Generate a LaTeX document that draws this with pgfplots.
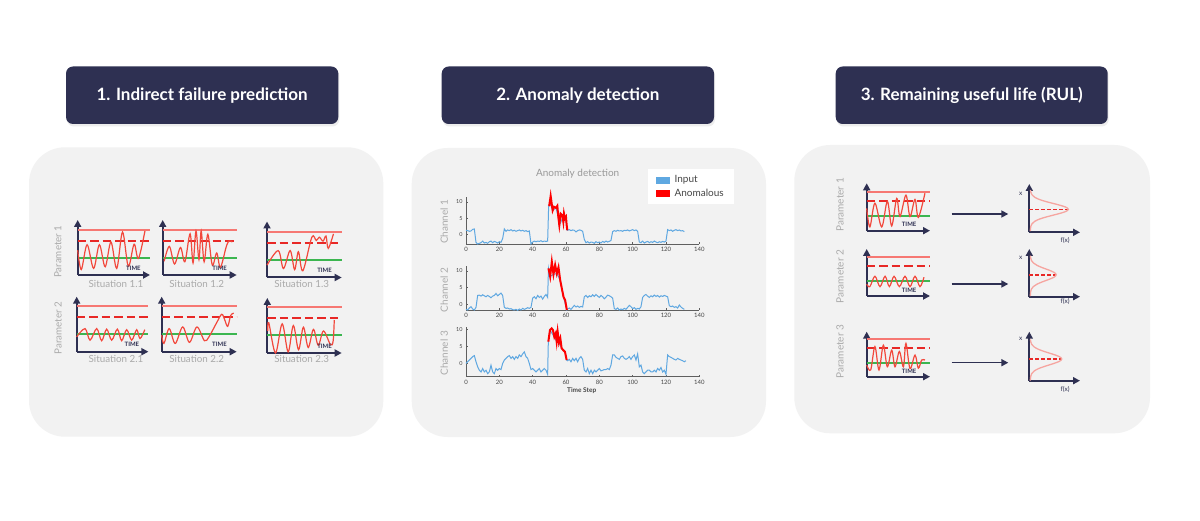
\documentclass[border=0pt]{standalone}
\usepackage{fontspec}
\setmainfont{Lato}
\usepackage{pgfplots}
\pgfplotsset{compat=1.18}
\usetikzlibrary{arrows.meta}
\definecolor{navy}{RGB}{46,48,82}
\definecolor{panelgray}{RGB}{242,242,242}
\definecolor{lightred}{RGB}{246,120,115}
\definecolor{dashred}{RGB}{232,40,38}
\definecolor{limgreen}{RGB}{60,182,80}
\definecolor{sigred}{RGB}{242,72,60}
\definecolor{distpink}{RGB}{246,165,160}
\definecolor{chblue}{RGB}{95,168,225}
\definecolor{anred}{RGB}{255,0,0}
\definecolor{labelgray}{RGB}{170,170,170}
\definecolor{axgray}{RGB}{95,95,95}
\definecolor{ticktext}{RGB}{70,70,70}
\pgfplotsset{
 mini/.style={scale only axis, axis lines=left, xmin=0, xmax=100, ymin=0, ymax=100,
   ticks=none, clip=false, enlargelimits=false,
   axis line style={draw=navy, line width=2pt},
   x axis line style={-{Triangle[length=7pt,width=7pt]}},
   y axis line style={-{Triangle[length=7pt,width=7pt]}}},
 toplim/.style={draw=lightred, solid, line width=2pt},
 dashlim/.style={draw=dashred, line width=2.2pt, dash pattern=on 8.5pt off 4pt},
 greenlim/.style={draw=limgreen, solid, line width=2pt},
 sig/.style={draw=sigred, solid, line width=1.2pt, smooth, tension=0.55},
 dist/.style={draw=distpink, solid, line width=1.3pt, smooth, tension=0.6},
 distdash/.style={draw=dashred, line width=1.5pt, dash pattern=on 3.5pt off 2.5pt},
 chan/.style={scale only axis, width=233.3pt, xmin=0, xmax=140, axis lines*=left,
   axis line style={draw=axgray, line width=0.6pt}, xtick={0,20,...,140}, ytick={0,5,10},
   tick align=inside, major tick length=2pt, tick style={draw=axgray, line width=0.5pt},
   xticklabel style={font=\fontsize{6}{6}\selectfont, text=ticktext},
   yticklabel style={font=\fontsize{5.5}{6}\selectfont, text=ticktext},
   /pgf/number format/assume math mode=true, clip=false, enlargelimits=false},
 chb/.style={draw=chblue, solid, line width=1pt},
 chr/.style={draw=anred, solid, line width=2pt},
}
\newcommand{\timelbl}[1]{\node[font=\fontsize{6}{6}\selectfont\bfseries, text=navy] at (axis cs:#1,13) {TIME};}
\newcommand{\thrlines}[3]{\addplot[toplim] coordinates {(0,#1) (100,#1)};
 \addplot[dashlim] coordinates {(0,#2) (100,#2)};
 \addplot[greenlim] coordinates {(0,#3) (100,#3)};}
\begin{document}
\begin{tikzpicture}[x=1pt,y=1pt]
\useasboundingbox (0,0) rectangle (1200,520);
\fill[white] (0,0) rectangle (1200,520);
% headers
\foreach \xa/\xb/\txt in {66/338.3/{1. Indirect failure prediction}, 441.7/714/{2. Anomaly detection}, 835.7/1107.7/{3. Remaining useful life (RUL)}}{
  \fill[black!7, rounded corners=7pt] (\xa+1,393.5) rectangle (\xb+1,451.5);
  \fill[navy, rounded corners=7pt] (\xa,396) rectangle (\xb,453.5);
  \node[white, font=\fontsize{17}{19}\selectfont\bfseries] at ({(\xa+\xb)/2},424.7) {\txt};
}
% panels
\fill[panelgray, rounded corners=36pt] (29,83.3) rectangle (383.3,372.7);
\fill[panelgray, rounded corners=36pt] (411.7,83) rectangle (766,372);
\fill[panelgray, rounded corners=36pt] (794.3,86.7) rectangle (1150,375);

% ---------- Panel 1 ----------
\begin{axis}[mini, at={(77.7pt,245pt)}, anchor=south west, width=72.3pt, height=55pt]
\thrlines{82}{62}{31.5}
\addplot[sig] coordinates {(0,45) (5,10) (13,55) (22,12) (30,55) (38,15) (46,60) (54,12) (62,78) (70,16) (78,56) (84,30) (93,80)};
\timelbl{77}
\end{axis}
\begin{axis}[mini, at={(162.7pt,245pt)}, anchor=south west, width=74pt, height=55pt]
\thrlines{82}{62}{31.5}
\addplot[sig] coordinates {(2,25) (9,52) (16,20) (24,50) (30,24) (37,75) (41,22) (45,80) (49,28) (52,80) (56,24) (61,74) (67,18) (73,40) (78,14) (86,52) (90,62) (94,60)};
\timelbl{77}
\end{axis}
\begin{axis}[mini, at={(267pt,242.5pt)}, anchor=south west, width=74.7pt, height=56pt]
\thrlines{82}{62}{31.5}
\addplot[sig] coordinates {(0,22) (15,48) (22,16) (31,48) (37,14) (42,46) (48,12) (60,72) (66,66) (70,72) (75,65) (79,74) (82,52) (89,78)};
\timelbl{77}
\end{axis}
\begin{axis}[mini, at={(76.7pt,168.3pt)}, anchor=south west, width=71.7pt, height=55pt]
\thrlines{83}{63.6}{32}
\addplot[sig] coordinates {(0,27) (11.6,42) (18.6,21) (27.9,42) (34.8,20) (41.8,41) (48.8,21) (56.7,41) (62.7,20) (69.7,40) (76.7,21) (83.7,40) (88.3,24) (95,40)};
\timelbl{77}
\end{axis}
\begin{axis}[mini, at={(161.7pt,168.3pt)}, anchor=south west, width=75pt, height=55pt]
\thrlines{83}{63.6}{32}
\addplot[sig] coordinates {(0,30) (3,15) (10,42) (18,15) (28,45) (37,17) (47,45) (57,20) (63,27) (73,52) (80,68) (84,58) (88,46) (92,66) (96,70)};
\timelbl{77}
\end{axis}
\begin{axis}[mini, at={(267.3pt,167pt)}, anchor=south west, width=74.4pt, height=55pt]
\thrlines{83}{63.6}{32}
\addplot[sig] coordinates {(0.5,40) (2,55) (11,0) (20,53) (28,2) (35,50) (42,6) (48.5,47) (55,10) (62,43) (68.5,14) (75.5,40) (85,15) (88.5,22) (90,60)};
\timelbl{77}
\end{axis}
\begin{scope}[font=\fontsize{9.8}{12}\selectfont, text=labelgray]
\node at (116,236) {Situation 1.1};
\node at (196.7,236) {Situation 1.2};
\node at (301.7,236) {Situation 1.3};
\node at (116,160.7) {Situation 2.1};
\node at (196.7,160.7) {Situation 2.2};
\node at (301.7,160.7) {Situation 2.3};
\node[rotate=90] at (58,268.3) {Parameter 1};
\node[rotate=90] at (58,192) {Parameter 2};
\end{scope}

% ---------- Panel 2 ----------
\node[font=\fontsize{10}{12}\selectfont, text=labelgray!90!black] at (577.7,346.7) {Anomaly detection};
\begin{axis}[chan, at={(466pt,276pt)}, anchor=south west, height=47.3pt, ymin=-2.9, ymax=11.6,
  legend style={at={(rel axis cs:0.78,1.58)}, anchor=north west, draw=none, fill=white,
    font=\fontsize{10}{11}\selectfont, text=ticktext, inner xsep=8pt, inner ysep=4pt, row sep=1pt},
  legend cell align=left]
\addlegendimage{legend image code/.code={\fill[chblue] (0pt,-3pt) rectangle (12.5pt,3pt); \path (16pt,0pt);}}
\addlegendentry{Input}
\addlegendimage{legend image code/.code={\fill[anred] (0pt,-3pt) rectangle (12.5pt,3pt); \path (16pt,0pt);}}
\addlegendentry{Anomalous}
\addplot[chb, forget plot] coordinates {(0,1.3)(1,1.2)(2,1.0)(3,1.1)(4,1.6)(5,1.7)(6,-2.4)(7,-2.9)(8,-2.7)(9,-2.5)(10,-2.0)(11,-2.6)(12,-2.4)(13,-2.7)(14,-2.2)(15,-2.0)(16,-2.5)(17,-2.1)(18,-2.3)(19,-2.6)(20,-2.2)(21,-2.4)(22,-1.2)(23,1.7)(24,1.0)(25,1.4)(26,1.2)(27,1.5)(28,1.1)(29,1.3)(30,1.0)(31,1.2)(32,1.4)(33,1.1)(34,1.3)(35,1.0)(36,1.2)(37,0.9)(38,1.1)(39,-2.9)(40,-2.3)(41,-2.0)(42,-2.2)(43,-2.0)(44,-2.1)(45,-1.9)(46,-2.2)(47,-2.0)(48,-2.1)(49,-2.0)(49.6,8.8)(50.5,9.5)(52,7.4)(54,8.2)(55.4,5.4)(56,2.9)(58,5)(60,4)(60.8,1.3)(62,1.5)(63,1.2)(64,1.4)(65,1.3)(66,0.8)(67,1.2)(68,1.4)(69,1.3)(70,1.0)(71,-1.5)(72,-2.5)(73,-2.2)(74,-2.6)(75,-2.3)(76,-2.4)(77,-2.7)(78,-2.2)(79,-2.5)(80,-2.3)(81,-2.6)(82,-2.1)(83,-2.4)(84,-2.0)(85,-2.3)(86,-2.1)(87,-1.8)(88,0.9)(89,1.2)(90,1.0)(91,1.3)(92,1.1)(93,1.2)(94,1.0)(95,1.3)(96,1.2)(97,1.4)(98,1.1)(99,1.3)(100,1.5)(101,1.2)(102,1.4)(103,1.0)(104,-2.3)(105,-2.5)(106,-2.0)(107,-2.6)(108,-2.3)(109,-2.1)(110,-2.5)(111,-2.2)(112,-2.4)(113,-2.0)(114,-2.3)(115,-2.5)(116,-2.2)(117,-2.4)(118,-2.1)(119,-2.3)(120,-2.0)(121,1.5)(122,1.2)(123,1.4)(124,1.0)(125,1.3)(126,1.5)(127,1.2)(128,1.4)(129,1.1)(130,1.2)(131,0.9)};
\addplot[chr, forget plot] coordinates {(49.6,8.8)(50,9)(50.8,11.8)(52,7.4)(52.8,8.5)(54,8.2)(54.8,8.8)(55.4,5.4)(56,2.9)(56.8,6.4)(57.8,5.9)(58.4,3.9)(58.8,6.4)(59.4,4.9)(60,5.4)(60.4,2.9)(60.8,1.3)};
\end{axis}
\begin{axis}[chan, at={(466pt,210pt)}, anchor=south west, height=44pt, ymin=-1.8, ymax=11.5]
\addplot[chb] coordinates {(0,-1.6)(1,-1.8)(2,-1.2)(3,-0.8)(4,-1.5)(5,-1.8)(6,-1.0)(7,2.6)(8,2.7)(9,2.4)(10,2.8)(11,2.5)(12,2.2)(13,2.6)(14,2.3)(15,1.9)(16,2.4)(17,2.6)(18,3.2)(19,2.5)(20,2.9)(21,3.3)(22,2.6)(23,-1.0)(24,-1.3)(25,-1.2)(26,-1.5)(27,-1.4)(28,-1.7)(29,-1.8)(30,-1.6)(31,-1.9)(32,-1.5)(33,-1.8)(34,-1.3)(35,-1.6)(36,-1.4)(37,-1.1)(38,-1.3)(39,-1.0)(40,1.8)(41,2.2)(42,1.6)(43,2.6)(44,2.0)(45,2.4)(46,1.5)(47,2.3)(48,2.9)(49,2.0)(49.5,10.8)(50.5,8.3)(52.5,9)(54.5,9.2)(56.5,7.3)(58.5,2.2)(60.5,-1.8)(61,-1.5)(62,-1.2)(63,-1.6)(64,-1.0)(65,-0.4)(66,-0.9)(67,-0.6)(68,-1.0)(69,-0.7)(70,-0.9)(71,2.2)(72,2.6)(73,2.0)(74,2.5)(75,2.2)(76,2.8)(77,2.3)(78,2.9)(79,2.4)(80,2.0)(81,2.6)(82,2.2)(83,1.6)(84,2.1)(85,2.7)(86,2.5)(87,2.2)(88,1.8)(89,-1.4)(90,-1.6)(91,-1.2)(92,-1.8)(93,-1.5)(94,-1.7)(95,-1.3)(96,-1.6)(97,-1.0)(98,-0.4)(99,-0.8)(100,-1.4)(101,-1.1)(102,-1.6)(103,-1.3)(104,-1.5)(105,-0.8)(106,2.0)(107,2.6)(108,2.9)(109,2.4)(110,2.0)(111,2.5)(112,2.2)(113,2.7)(114,2.3)(115,2.6)(116,2.1)(117,2.5)(118,2.3)(119,2.6)(120,2.4)(121,2.2)(122,-0.5)(123,-0.8)(124,-0.6)(125,-1.0)(126,-0.8)(127,-1.2)(128,-0.3)(129,-0.9)(130,-1.3)(131,-1.6)};
\addplot[chr] coordinates {(49.5,10.8)(50.5,8.3)(51.5,12.8)(52.5,9)(53.5,11.8)(54.5,9.2)(55.5,11.1)(56.5,7.3)(57.5,4.7)(58.5,2.2)(59.5,1.2)(60.5,-1.8)};
\end{axis}
\begin{axis}[chan, at={(466pt,143.3pt)}, anchor=south west, height=50pt, ymin=-3.9, ymax=10.8]
\addplot[chb] coordinates {(0,0)(1,0.5)(2,1)(3,1.5)(4,2)(5,2.3)(6,0.5)(7,-1)(8,-2)(9,-2.5)(10,-1.5)(11,-2.5)(12,-2)(13,-3)(14,-2.5)(15,-0.5)(16,-2.5)(17,-3)(18,-1.5)(19,-2)(20,-1.5)(21,-1.8)(22,0)(23,1)(24,1.5)(25,2)(26,2.3)(27,1.5)(28,2)(29,1.2)(30,2)(31,1.5)(32,2.5)(33,2)(34,2.8)(35,3.4)(36,2)(37,1.5)(38,0)(39,-1.8)(40,-1.5)(41,-2)(42,-2.5)(43,-2)(44,-1.5)(45,-2.5)(46,-2)(47,-1.5)(48,-2)(49,-3.2)(49.4,6.4)(50.4,9.8)(53,7.8)(54.4,6.4)(55.8,6.1)(57.4,4.4)(59.4,3.4)(60.4,1.0)(61,0.8)(62,1.2)(63,0.5)(64,1.5)(65,0.8)(66,1.5)(67,0.5)(68,1.5)(69,2)(70,1.2)(71,-2)(72,-2.5)(73,-1.5)(74,-3)(75,-2)(76,-3)(77,-2)(78,-2.5)(79,-2)(80,-1.5)(81,-2.2)(82,-2)(83,-1.8)(84,-1.8)(85,-1.5)(86,-1.8)(87,-0.5)(88,2.5)(89,2.5)(90,1.8)(91,1.5)(92,1.2)(93,2)(94,2.2)(95,1.5)(96,1.2)(97,1.5)(98,2)(99,1.2)(100,2)(101,2.5)(102,1)(103,2.8)(104,-1)(105,-0.5)(106,-2.5)(107,-3)(108,-2.5)(109,-2)(110,-2)(111,-2.5)(112,-2.5)(113,-2)(114,-2.5)(115,-1.5)(116,-2)(117,-1.2)(118,-2.5)(119,-2)(120,-3.2)(121,2.5)(122,2)(123,1.8)(124,1.5)(125,1.2)(126,1)(127,1.5)(128,1.2)(129,1)(130,0.8)(131,0.5)(132,0.8)};
\addplot[chr] coordinates {(49.4,6.4)(50.4,9.8)(51.4,10.3)(52.2,9.8)(53,7.8)(53.8,8.8)(54.4,6.4)(55,9.3)(55.8,6.1)(56.6,7.4)(57.4,4.4)(58.4,3.9)(59.4,3.4)(60.4,1.0)};
\end{axis}
\begin{scope}[font=\fontsize{10}{12}\selectfont, text=labelgray]
\node[rotate=90] at (444.3,298.3) {Channel 1};
\node[rotate=90] at (444.3,230) {Channel 2};
\node[rotate=90] at (444.3,166.7) {Channel 3};
\end{scope}
\node[font=\fontsize{6.5}{7}\selectfont\bfseries, text=ticktext] at (581.7,129) {Time Step};

% ---------- Panel 3 ----------
\begin{axis}[mini, at={(866.7pt,289.3pt)}, anchor=south west, width=63.3pt, height=47.4pt]
\thrlines{82}{63}{31.6}
\addplot[sig] coordinates {(0,47) (5,8) (13,58) (23.7,8) (32.6,62) (39.5,10) (47.4,68) (52.6,30) (62,75) (68.4,30) (76.3,66) (81.6,28) (92,79)};
\timelbl{67}
\end{axis}
\begin{axis}[mini, at={(866.7pt,224pt)}, anchor=south west, width=63.3pt, height=47pt]
\thrlines{82}{63.8}{31.9}
\addplot[sig] coordinates {(0,25) (5,20) (13,42) (21,20) (29,42) (35.8,20) (43.2,42) (51.6,20) (60.5,42) (68.4,20) (76.3,42) (84.2,20) (90.5,40)};
\timelbl{67}
\end{axis}
\begin{axis}[mini, at={(866.7pt,143.3pt)}, anchor=south west, width=63.3pt, height=45pt]
\thrlines{84.4}{64.4}{31}
\addplot[sig] coordinates {(0,26) (6.3,15) (13,67) (19.4,15) (26.3,70) (32.6,22) (39.5,59) (44.7,22) (51.6,56) (58,22) (62,74) (68.4,18) (76.3,48) (81.6,19) (86.8,37) (92,37)};
\timelbl{67}
\end{axis}
% distributions
\begin{axis}[mini, at={(1029.3pt,287.7pt)}, anchor=south west, width=50.7pt, height=48.3pt]
\addplot[distdash] coordinates {(0,47.6) (77,47.6)};
\addplot[dist] coordinates {(2,2.6) (2.3,7.6) (3.1,12.6) (5.3,17.6) (10.6,22.6) (20.7,27.6) (36.4,32.6) (55.0,37.6) (70.8,42.6) (77.0,47.6) (70.8,52.6) (55.0,57.6) (36.4,62.6) (20.7,67.6) (10.6,72.6) (5.3,77.6) (3.1,82.6) (2.3,87.6)};
\end{axis}
\begin{axis}[mini, at={(1029.3pt,223.3pt)}, anchor=south west, width=50.7pt, height=47.7pt]
\addplot[distdash] coordinates {(0,46) (53,46)};
\addplot[dist] coordinates {(2,1) (2.2,6) (2.7,11) (4.2,16) (7.8,21) (14.7,26) (25.4,31) (38.1,36) (48.8,41) (53,46) (48.8,51) (38.1,56) (25.4,61) (14.7,66) (7.8,71) (4.2,76) (2.7,81) (2.2,86)};
\end{axis}
\begin{axis}[mini, at={(1029.3pt,139.3pt)}, anchor=south west, width=50.7pt, height=49pt]
\addplot[distdash] coordinates {(0,44.3) (64,44.3)};
\addplot[dist] coordinates {(2,0) (2.2,4.3) (2.9,9.3) (4.7,14.3) (9.1,19.3) (17.4,24.3) (30.4,29.3) (45.8,34.3) (58.9,39.3) (64,44.3) (58.9,49.3) (45.8,54.3) (30.4,59.3) (17.4,64.3) (9.1,69.3) (4.7,74.3) (2.9,79.3) (2.2,84.3)};
\end{axis}
\begin{scope}[font=\fontsize{6.5}{7}\selectfont, text=navy]
\node at (1020.7,326) {x};
\node at (1065,280) {f(x)};
\node at (1020.7,261.7) {x};
\node at (1065,218.3) {f(x)};
\node at (1020.7,180.7) {x};
\node at (1065,130.7) {f(x)};
\end{scope}
\foreach \yy in {306,236,157.3}{
  \draw[navy, line width=1.6pt, -{Triangle[length=7pt,width=7pt]}] (951.7,\yy) -- (1008.3,\yy);
}
\begin{scope}[font=\fontsize{10}{12}\selectfont, text=labelgray]
\node[rotate=90] at (840,315) {Parameter 1};
\node[rotate=90] at (840,243.3) {Parameter 2};
\node[rotate=90] at (840,168.3) {Parameter 3};
\end{scope}
\end{tikzpicture}
\end{document}
